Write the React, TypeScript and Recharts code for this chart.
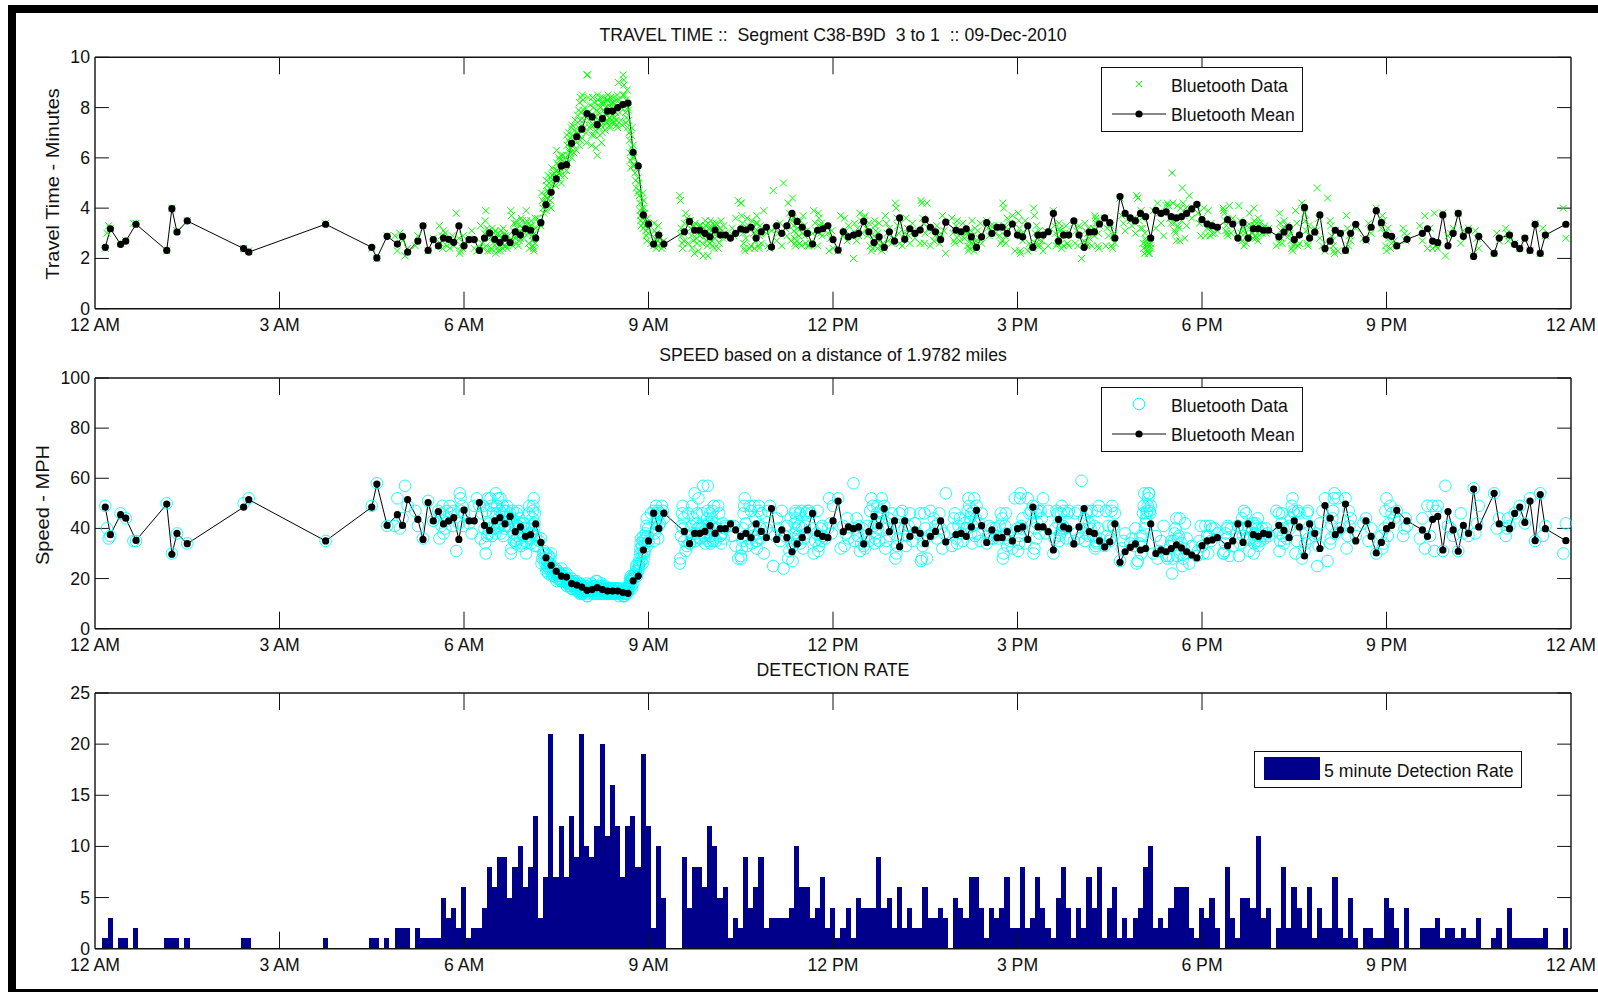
import React from "react";
import { Bar, ComposedChart, Line, ReferenceLine, Scatter, XAxis, YAxis } from "recharts";

// time axis is in 5 minute slots, 288 slots = 24 hours
const hourTicks = [0, 36, 72, 108, 144, 180, 216, 252, 288];
const hourLabels = ["12 AM", "3 AM", "6 AM", "9 AM", "12 PM", "3 PM", "6 PM", "9 PM", "12 AM"];
const travelTicks = [0, 2, 4, 6, 8, 10];
const speedTicks = [0, 20, 40, 60, 80, 100];
const rateTicks = [0, 5, 10, 15, 20, 25];

// slots that have at least one detection
const activeSlots = [
  2, 3, 5, 6, 8, 14, 15, 16, 18, 29, 30, 45, 54, 55, 57, 59, 60, 61, 63, 64, 65, 66, 67,
  68, 69, 70, 71, 72, 73, 74, 75, 76, 77, 78, 79, 80, 81, 82, 83, 84, 85, 86, 87, 88, 89, 90,
  91, 92, 93, 94, 95, 96, 97, 98, 99, 100, 101, 102, 103, 104, 105, 106, 107, 108, 109, 110, 111,
  115, 116, 117, 118, 119, 120, 121, 122, 123, 124, 125, 126, 127, 128, 129, 130, 131, 132, 133, 134, 135,
  136, 137, 138, 139, 140, 141, 142, 143, 144, 145, 146, 147, 148, 149, 150, 151, 152, 153, 154, 155, 156,
  157, 158, 159, 160, 161, 162, 163, 164, 165, 166,
  168, 169, 170, 171, 172, 173, 174, 175, 176, 177, 178, 179, 180, 181, 182, 183, 184, 185, 186, 187, 188,
  189, 190, 191, 192, 193, 194, 195, 196, 197, 198, 199, 200, 201, 202, 203, 204, 205, 206, 207, 208, 209,
  210, 211, 212, 213, 214, 215, 216, 217, 218, 219,
  221, 222, 223, 224, 225, 226, 227, 228, 229,
  231, 232, 233, 234, 235, 236, 237, 238, 239, 240, 241, 242, 243, 244, 245, 246,
  248, 249, 250, 251, 252, 253, 254, 256, 259, 260, 261, 262, 263, 264, 265, 266, 267, 268, 269, 270,
  273, 274, 276, 277, 278, 279, 280, 281, 282, 283, 287
];

const detectionRate = [
  1, 3, 1, 1, 2, 1, 1, 1, 1, 1, 1, 1, 1, 1, 1, 2, 2, 2, 2, 1, 1, 1, 1,
  5, 3, 4, 2, 6, 1, 2, 2, 4, 8, 6, 9, 9, 5, 8, 10, 6, 8, 13, 3, 7, 21, 7,
  12, 7, 13, 9, 21, 10, 9, 12, 20, 11, 16, 12, 7, 12, 13, 8, 19, 12, 2, 10, 5,
  9, 4, 8, 8, 6, 12, 10, 5, 6, 1, 3, 2, 9, 4, 6, 9, 2, 3, 3, 3, 3,
  4, 10, 6, 6, 3, 4, 7, 2, 4, 1, 2, 4, 1, 5, 4, 4, 4, 9, 4, 5, 2,
  6, 2, 4, 2, 2, 6, 3, 3, 4, 3,
  5, 4, 3, 7, 7, 4, 1, 4, 3, 4, 7, 2, 2, 8, 2, 3, 7, 4, 2, 1, 5,
  8, 4, 1, 4, 2, 7, 4, 8, 1, 4, 6, 1, 3, 1, 3, 4, 8, 10, 2, 3, 2,
  4, 6, 6, 6, 2, 1, 4, 3, 5, 2,
  8, 3, 1, 5, 5, 4, 11, 3, 4,
  2, 8, 2, 6, 4, 2, 6, 1, 4, 2, 2, 7, 2, 1, 5, 1,
  2, 2, 1, 1, 5, 4, 2, 4, 2, 2, 2, 3, 1, 2, 2, 1, 2, 1, 1, 3,
  1, 2, 4, 1, 1, 1, 1, 1, 1, 2, 2
];

const travelMean = [
  2.44, 3.18, 2.56, 2.69, 3.36, 2.32, 3.98, 3.05, 3.49, 2.39, 2.25, 3.36, 2.44, 2.02, 2.88, 2.57, 2.88, 2.25, 2.69, 3.3, 2.32, 2.75, 2.5,
  2.81, 2.76, 2.64, 3.3, 2.5, 2.75, 2.75, 2.32, 2.81, 3.01, 2.76, 2.63, 2.81, 2.63, 3.06, 2.93, 3.18, 3.12, 2.81, 3.42, 4.14, 4.63, 5.17,
  5.68, 5.73, 6.58, 6.84, 7.14, 7.76, 7.63, 7.32, 7.56, 7.86, 7.86, 8.0, 8.12, 8.18, 6.22, 5.68, 3.73, 3.37, 2.57, 2.93, 2.57,
  3.06, 3.47, 3.12, 3.12, 3.0, 2.86, 3.13, 2.93, 2.93, 2.81, 3.0, 3.17, 3.13, 3.24, 2.81, 3.06, 3.24, 2.45, 3.3, 3.0, 3.3,
  3.79, 3.47, 3.24, 3.0, 2.57, 3.12, 3.18, 3.3, 2.75, 2.33, 3.06, 2.86, 2.93, 3.0, 3.47, 3.06, 2.63, 2.86, 2.44, 3.06, 2.69,
  3.61, 2.76, 3.18, 3.0, 3.13, 3.54, 3.24, 3.06, 2.75, 3.44,
  3.12, 3.06, 3.18, 2.86, 2.44, 2.86, 3.42, 3.0, 3.24, 3.24, 3.0, 3.37, 2.93, 2.86, 3.3, 2.44, 2.93, 2.93, 3.06, 3.79, 2.69,
  2.93, 2.93, 3.49, 2.93, 2.44, 3.05, 3.06, 3.37, 3.61, 3.42, 2.81, 4.46, 3.79, 3.61, 3.49, 3.79, 3.66, 2.81, 3.91, 3.79, 3.85,
  3.66, 3.61, 3.66, 3.79, 3.97, 4.15, 3.54, 3.37, 3.3, 3.24,
  3.54, 3.37, 2.81, 3.42, 2.81, 3.18, 3.18, 3.12, 3.12,
  2.86, 3.05, 3.24, 2.75, 2.93, 4.03, 2.81, 3.05, 3.73, 2.39, 2.69, 3.12, 3.0, 2.32, 3.0, 3.36,
  2.75, 3.24, 3.9, 3.42, 2.93, 2.88, 2.5, 2.76, 3.0, 3.18, 2.69, 2.63, 3.73, 2.5, 3.0, 3.79, 2.88, 3.12, 2.08, 2.88,
  2.2, 2.81, 2.93, 2.56, 2.39, 2.81, 2.32, 3.36, 2.2, 2.93, 3.36
];

const speedMean = [
  48.5, 37.5, 45.5, 44.1, 35.2, 49.7, 29.7, 38, 33.9, 48.5, 51.5, 35, 48.5, 57.7, 41.2, 45.5, 41.2, 51.5, 43.6, 35.6, 50.3, 43, 46.7,
  41.8, 43, 44.3, 35.6, 47.3, 43, 43, 50.3, 41.2, 39.2, 43, 44.3, 41.8, 44.8, 38.7, 40.6, 36.8, 37.5, 41.8, 34.4, 28.3, 25.3, 22.9,
  21, 20.6, 18, 17.4, 16.6, 15.3, 15.6, 16.4, 15.6, 15, 15, 15, 14.4, 14.1, 19.1, 21, 31.4, 35, 46.1, 40, 46.1,
  38.8, 33.9, 38, 38, 38.8, 41.1, 38, 39.9, 39.9, 41.8, 39.4, 36.8, 38, 36.3, 41.8, 38.8, 36.3, 47.9, 35.6, 39.4, 36.3,
  30.7, 33.8, 36.3, 39.4, 46, 38, 36.8, 36.3, 43, 50.9, 38.7, 40.6, 39.9, 40.6, 33.8, 38.7, 44.8, 41.1, 47.9, 38.7, 43,
  32.7, 43, 36.8, 39.4, 38, 33.9, 36.8, 38.8, 43, 34.6,
  37.5, 38, 36.8, 40.6, 47.2, 41.1, 34.4, 39.4, 36.3, 36.3, 38.7, 35, 39.9, 40.6, 35.6, 48.5, 40.6, 40.6, 38.7, 31.4, 43.6,
  40.6, 39.9, 33.8, 40.6, 47.9, 38.7, 38, 35, 32.6, 34.6, 41.8, 26.5, 30.7, 32.4, 33.8, 31.4, 32, 41.8, 30, 31.4, 30.7,
  32, 33.4, 32.2, 30.7, 29.4, 28.3, 33.1, 35, 35.4, 36.3,
  33.1, 35, 41.8, 34.4, 41.8, 37.5, 36.8, 38, 37.5,
  41.2, 39.2, 36.3, 43, 40.6, 29, 41.8, 38, 32, 49.1, 44.1, 37.5, 39.4, 49.7, 39.4, 35,
  43, 36.8, 30.2, 34.4, 39.9, 41.2, 47.2, 43, 39.4, 36.8, 43.6, 44.8, 31.4, 46.7, 39.4, 30.9, 41.2, 38, 55.7, 40.6,
  54, 41.8, 39.9, 46, 48.5, 42.4, 50.9, 35.1, 53.5, 39.9, 35.1
];

// each row: slot, then the single detections seen in that slot
const travelDetections = [
  [2, 2.4], [3, 3.0, 3.3, 3.2], [5, 2.6], [6, 2.7], [8, 3.4, 3.4], [14, 2.3], [15, 4.0], [16, 3.1], [18, 3.5],
  [29, 2.4], [30, 2.3], [45, 3.4], [54, 2.4], [55, 2.0], [57, 2.9], [59, 2.9, 2.3], [60, 3.0, 2.7], [61, 2.1, 2.4],
  [63, 2.5, 2.9], [64, 3.3], [65, 2.3], [66, 2.8], [67, 2.5],
  [68, 3.3, 2.6, 2.9, 2.4, 3.1], [69, 3.0, 2.5, 2.7], [70, 2.4, 2.6, 2.9, 2.5], [71, 3.8, 2.8],
  [72, 2.2, 2.3, 2.5, 2.4, 2.9, 2.6], [73, 2.8], [74, 3.1, 2.4], [75, 2.3, 2.4], [76, 3.3, 2.6, 2.4, 3.0],
  [77, 3.5, 3.9, 2.5, 3.2, 2.3, 3.1, 3.0, 2.8], [78, 2.3, 2.4, 3.2, 2.6, 3.0, 2.8],
  [79, 3.1, 2.2, 2.6, 2.4, 3.0, 2.3, 2.7, 2.9, 2.5], [80, 2.3, 3.1, 2.8, 2.6, 2.4, 3.2, 2.5, 3.0, 2.9],
  [81, 2.5, 2.4, 2.9, 2.7, 2.6], [82, 3.9, 3.7, 2.7, 2.5, 3.1, 3.4, 2.9, 2.8],
  [83, 3.4, 3.5, 2.6, 3.2, 2.9, 2.5, 3.0, 2.7, 3.3, 2.8], [84, 3.6, 3.5, 3.2, 2.8, 3.0, 3.4],
  [85, 3.9, 3.5, 3.2, 3.0, 2.6, 2.4, 3.3, 3.1], [86, 3.5, 3.3, 3.1, 2.9, 2.7, 2.5, 2.4, 2.3, 3.0, 2.8, 2.6, 3.6, 3.2],
  [87, 3.6, 3.4, 3.3], [88, 4.6, 4.3, 4.0, 3.8, 4.2, 4.5, 3.9],
  [89, 5.1, 4.9, 4.4, 4.7, 4.2, 5.3, 4.6, 4.1, 5.0, 4.8, 4.5, 4.3, 5.2, 4.0], [90, 5.6, 5.3, 5.0, 5.4, 5.2, 4.9, 5.5],
  [91, 6.3, 5.8, 5.5, 5.2, 5.7, 6.0, 5.4, 5.9, 5.6, 5.3, 6.1, 5.0], [92, 5.9, 6.1, 5.6, 5.3, 5.8, 6.0, 5.5],
  [93, 6.9, 6.5, 6.1, 5.8, 6.7, 7.0, 6.3, 6.6, 6.2, 6.8, 6.4, 7.2, 6.0], [94, 7.3, 6.9, 6.5, 6.2, 7.1, 7.5, 6.7, 6.3, 7.0],
  [95, 7.0, 7.7, 7.4, 6.9, 7.9, 7.2, 6.5, 8.2, 7.5, 6.7, 8.4, 7.8, 7.1, 6.8], [96, 8.5, 8.3, 7.9, 7.5, 7.2, 8.0, 7.7, 7.0, 6.6, 9.3],
  [97, 9.3, 8.4, 7.8, 7.5, 7.2, 8.1, 7.3, 6.5, 6.9], [98, 8.4, 8.0, 7.7, 7.3, 6.9, 8.2, 7.6, 7.1, 6.4, 7.9, 7.4, 6.1],
  [99, 8.5, 8.3, 8.1, 7.8, 7.5, 7.2, 6.9, 8.4, 8.0, 7.6, 7.3, 6.6, 8.2, 7.0], [100, 8.4, 8.2, 7.9, 7.6, 7.3, 7.1, 8.0, 7.7, 7.4, 8.3, 7.5],
  [101, 8.5, 8.3, 8.1, 7.9, 7.6, 7.3, 7.2, 8.4, 8.0, 7.8, 7.5, 7.4, 8.2, 7.7], [102, 8.4, 8.2, 7.9, 7.6, 7.4, 8.0, 7.8, 7.5, 8.3, 7.3, 8.5, 7.2],
  [103, 9.0, 8.3, 7.8, 7.5, 8.0, 7.3, 8.5], [104, 9.3, 9.1, 8.9, 8.5, 8.1, 7.8, 7.4, 8.3, 7.6, 8.7, 7.2, 8.0],
  [105, 7.9, 7.5, 7.0, 6.7, 6.2, 5.9, 5.6, 6.9, 6.4, 7.2, 6.0, 5.7, 6.5], [106, 6.0, 5.7, 5.4, 5.1, 4.8, 5.6, 4.6, 5.2],
  [107, 5.0, 4.7, 4.5, 4.2, 3.9, 3.7, 3.5, 3.3, 4.4, 4.0, 3.6, 4.6, 3.4, 3.2], [108, 4.3, 4.0, 3.8, 3.5, 3.3, 3.1, 2.9, 2.7, 3.6, 3.2, 3.0, 3.4],
  [109, 2.6, 2.5], [110, 3.4, 3.1, 2.8, 2.6, 2.4, 3.0, 2.7, 2.5, 3.3, 2.9], [111, 2.8, 2.6, 2.4, 2.5, 2.7],
  [115, 4.5, 4.3, 3.2, 2.9, 2.6, 2.4, 3.0, 2.7, 3.4], [116, 3.8, 3.6, 2.6, 3.5], [117, 3.5, 3.2, 2.9, 2.4, 3.1, 2.7, 3.3, 2.2],
  [118, 3.4, 3.1, 2.8, 2.6, 3.0, 2.3, 3.3, 2.9], [119, 3.3, 3.0, 2.6, 2.1, 3.2, 2.9], [120, 3.5, 3.3, 3.1, 2.9, 2.7, 2.5, 2.1, 3.4, 3.0, 2.8, 3.2, 2.6],
  [121, 3.5, 3.2, 2.9, 2.7, 2.5, 3.4, 3.0, 2.4, 3.3, 2.8], [122, 3.4, 3.0, 2.4, 2.6, 3.2], [123, 3.5, 3.1, 2.8, 3.3, 3.0, 2.9], [124, 2.9],
  [125, 3.2, 2.9, 3.6], [126, 4.3, 4.2], [127, 4.2, 3.7, 3.4, 3.0, 2.6, 2.4, 2.3, 3.2, 2.8], [128, 3.6, 3.3, 2.4, 2.5],
  [129, 3.5, 3.2, 3.0, 2.4, 2.7, 3.4], [130, 3.7, 3.4, 3.1, 2.5, 2.4, 2.9, 3.3, 3.0, 2.6], [131, 3.9, 3.0], [132, 2.5, 2.4, 3.1],
  [133, 4.7, 3.2, 2.7], [134, 3.0, 3.4, 2.5], [135, 5.0, 3.2, 2.9], [136, 4.2, 3.8, 2.7, 3.5], [137, 4.4, 3.6, 3.3, 3.1, 2.8, 2.6, 2.5, 3.0, 2.7, 3.4],
  [138, 3.2, 2.9, 2.6, 3.5, 2.5, 3.0], [139, 3.7, 3.3, 2.9, 2.6, 3.1, 2.5], [140, 2.5, 2.6, 3.0], [141, 3.9, 3.4, 3.1, 2.5],
  [142, 3.8, 3.6, 3.3, 3.0, 3.4, 2.9, 3.2], [143, 3.3, 3.0], [144, 2.3, 2.8, 3.1, 2.4], [145, 2.3], [146, 3.7, 2.9], [147, 3.6, 3.1, 2.7, 3.3],
  [148, 2.0], [149, 3.4, 3.0, 2.7, 3.2, 2.9], [150, 3.8, 3.5, 3.0, 3.6], [151, 3.7, 3.2, 2.9, 3.4], [152, 2.5, 2.3, 2.4, 2.9],
  [153, 3.5, 3.3, 3.1, 2.8, 2.6, 2.4, 3.0, 2.7, 3.4], [154, 2.5, 2.3, 2.6, 2.4], [155, 3.7, 3.4, 3.0, 2.7, 3.2], [156, 2.6, 2.8],
  [157, 4.2, 4.0, 3.6, 3.3, 3.0, 2.6], [158, 2.5, 3.0], [159, 3.6, 3.2, 2.9, 2.6], [160, 3.4, 2.8], [161, 3.1, 2.6],
  [162, 4.3, 4.2, 3.6, 3.4, 2.6, 3.0], [163, 4.2, 3.2, 2.5], [164, 3.1, 2.7, 2.9], [165, 3.3, 2.8, 2.6, 3.0], [166, 3.7, 3.1, 2.2],
  [168, 3.6, 3.0, 2.7, 2.6, 3.3], [169, 3.5, 2.9, 2.7, 3.1], [170, 3.4, 2.8, 3.0], [171, 3.0, 2.5, 2.3, 2.4, 2.7, 3.1, 2.6],
  [172, 3.5, 2.9, 2.5, 2.3, 3.2, 2.7, 2.4], [173, 3.1, 2.8, 3.4, 2.6], [174, 3.5], [175, 3.2, 2.9, 3.3, 3.0], [176, 3.3, 3.0, 3.2],
  [177, 3.3, 2.9, 2.6, 2.7], [178, 4.2, 4.0, 3.3, 2.9, 2.6, 3.1, 3.6], [179, 3.4, 3.7], [180, 2.3, 3.0], [181, 3.8, 3.5, 3.2, 2.3, 2.2, 2.9, 3.0, 2.7],
  [182, 3.5, 2.3], [183, 2.6, 2.5, 2.4], [184, 4.0, 3.7, 3.0, 2.6, 3.3, 2.8, 2.5], [185, 3.1, 2.5, 2.7, 2.3], [186, 3.1, 2.5], [187, 3.9],
  [188, 3.3, 3.0, 2.5, 2.6, 2.8], [189, 3.4, 3.2, 3.1, 2.6, 2.4, 3.0, 2.9, 2.5], [190, 3.0, 3.3, 2.6, 2.5], [191, 3.4], [192, 2.6, 3.1, 2.5, 3.3],
  [193, 2.0, 2.7], [194, 3.4, 3.1, 2.6, 2.5, 3.0, 3.2, 2.8], [195, 3.0, 2.5, 3.2, 2.9], [196, 3.7, 3.6, 3.4, 3.5, 2.5, 3.0, 2.4, 3.3], [197, 3.6],
  [198, 2.5, 3.2, 2.9, 3.4], [199, 3.3, 2.5, 2.4, 2.9, 3.0, 2.6], [200, 4.4], [201, 3.7, 3.4, 3.1], [202, 3.5], [203, 3.3, 3.6, 3.0],
  [204, 4.5, 4.4, 3.5, 3.2], [205, 3.9, 3.6, 3.2, 2.6, 2.4, 2.2, 3.0, 2.8], [206, 2.7, 2.6, 2.5, 2.4, 2.3, 2.2, 2.2, 2.5, 2.6, 2.4], [207, 3.9, 3.2],
  [208, 4.2, 3.8, 3.4], [209, 2.9, 4.1], [210, 4.2, 4.1, 3.6, 3.4], [211, 5.4, 4.2, 3.4, 3.1, 3.0, 2.7], [212, 4.1, 3.3, 3.2, 2.7, 4.0, 3.5],
  [213, 4.8, 4.2, 3.7, 2.8, 4.0, 3.3], [214, 4.5, 3.6], [215, 4.1], [216, 3.8, 3.4, 2.9, 3.6], [217, 4.0, 2.9, 3.2], [218, 3.9, 3.2, 2.9, 3.4, 3.0], [219, 3.0, 3.1],
  [221, 4.0, 3.9, 3.8, 3.5, 3.1, 3.3, 3.0, 2.9], [222, 4.1, 3.0, 3.6], [223, 2.9], [224, 4.1, 3.5, 3.0, 2.7, 3.2], [225, 2.5, 3.0, 2.6, 3.3, 2.9],
  [226, 3.8, 3.3, 3.0, 2.8], [227, 4.0, 3.5, 3.3, 3.1, 2.9, 2.8, 3.4, 3.2, 3.0, 2.7, 3.6], [228, 3.4, 3.0, 3.2], [229, 3.3, 3.0, 3.1, 3.2],
  [231, 2.5, 2.6], [232, 3.8, 3.4, 3.1, 2.8, 2.6, 3.2, 3.0, 3.5], [233, 3.3, 2.9], [234, 3.0, 2.7, 2.4, 2.3, 2.5, 2.6], [235, 3.9, 3.4, 2.5, 2.6],
  [236, 4.2, 3.8], [237, 3.5, 3.1, 2.6, 2.5, 3.3, 2.9], [238, 3.2], [239, 3.1, 4.8, 3.6, 2.8], [240, 2.5, 2.3], [241, 4.4, 3.5],
  [242, 3.3, 2.9, 2.7, 2.5, 2.3, 2.2, 3.1], [243, 2.3, 3.0], [244, 2.3], [245, 3.7, 3.2, 2.5, 2.9, 2.7], [246, 3.2], [248, 2.8, 2.7], [249, 3.4, 3.0],
  [250, 4.0], [251, 3.2], [252, 3.7, 3.5, 3.0, 2.5, 2.3], [253, 3.2, 2.8, 2.4, 2.6], [254, 2.7, 2.5], [256, 3.2, 3.0, 2.7, 2.9], [259, 3.3, 2.7],
  [260, 3.7, 2.4], [261, 3.2, 2.4], [262, 3.8, 2.5, 2.4], [263, 3.8], [264, 2.1, 2.9], [265, 3.0, 3.2], [266, 3.8], [267, 2.6, 3.1], [268, 3.2],
  [269, 2.1], [270, 3.1, 2.8, 2.4], [273, 2.2], [274, 3.0, 2.7], [276, 3.2, 3.0, 2.7, 2.9], [277, 2.6], [278, 2.4], [279, 2.8], [280, 2.3], [281, 3.4],
  [282, 2.2], [283, 3.2, 2.9], [287, 4.0, 2.8]
];

const speedDetections = [
  [2, 49], [3, 40, 36, 37], [5, 46], [6, 44], [8, 35, 35], [14, 50], [15, 30], [16, 38], [18, 34], [29, 50], [30, 52], [45, 35], [54, 49], [55, 58], [57, 41],
  [59, 41, 52], [60, 40, 44], [61, 57, 49], [63, 47, 41], [64, 36], [65, 51], [66, 43], [67, 47], [68, 36, 46, 41, 49, 38], [69, 40, 47, 44],
  [70, 49, 46, 41, 47], [71, 31, 42], [72, 54, 52, 47, 49, 41, 46], [73, 42], [74, 38, 49], [75, 52, 49], [76, 36, 46, 49, 40],
  [77, 34, 30, 47, 37, 52, 38, 40, 42], [78, 52, 49, 37, 46, 40, 42], [79, 38, 54, 46, 49, 40, 52, 44, 41, 47], [80, 52, 38, 42, 46, 49, 37, 47, 40, 41],
  [81, 47, 49, 41, 44, 46], [82, 30, 32, 44, 47, 38, 35, 41, 42], [83, 35, 34, 46, 37, 41, 47, 40, 44, 36, 42], [84, 33, 34, 37, 42, 40, 35],
  [85, 30, 34, 37, 40, 46, 49, 36, 38], [86, 34, 36, 38, 41, 44, 47, 49, 52, 40, 42, 46, 33, 37], [87, 33, 35, 36], [88, 26, 28, 30, 31, 28, 26, 30],
  [89, 23, 24, 27, 25, 28, 22, 26, 29, 24, 25, 26, 28, 23, 30], [90, 21, 22, 24, 21, 23, 24, 22], [91, 19, 20, 22, 23, 21, 20, 22, 20, 21, 22, 19, 24],
  [92, 20, 19, 21, 22, 20, 20, 22], [93, 17, 18, 19, 20, 18, 17, 19, 18, 19, 17, 19, 16, 20], [94, 16, 17, 18, 19, 17, 16, 18, 19, 17],
  [95, 17, 15, 16, 17, 15, 16, 18, 14, 16, 18, 14, 15, 17, 17], [96, 14, 14, 15, 16, 16, 15, 15, 17, 18, 13], [97, 13, 14, 15, 16, 16, 15, 16, 18, 17],
  [98, 14, 15, 15, 16, 17, 14, 16, 17, 19, 15, 16, 19], [99, 14, 14, 15, 15, 16, 16, 17, 14, 15, 16, 16, 18, 14, 17], [100, 14, 14, 15, 16, 16, 17, 15, 15, 16, 14, 16],
  [101, 14, 14, 15, 15, 16, 16, 16, 14, 15, 15, 16, 16, 14, 15], [102, 14, 14, 15, 16, 16, 15, 15, 16, 14, 16, 14, 16], [103, 13, 14, 15, 16, 15, 16, 14],
  [104, 13, 13, 13, 14, 15, 15, 16, 14, 16, 14, 16, 15], [105, 15, 16, 17, 18, 19, 20, 21, 17, 19, 16, 20, 21, 18], [106, 20, 21, 22, 23, 25, 21, 26, 23],
  [107, 24, 25, 26, 28, 30, 32, 34, 36, 27, 30, 33, 26, 35, 37], [108, 28, 30, 31, 34, 36, 38, 41, 44, 33, 37, 40, 35], [109, 46, 47],
  [110, 35, 38, 42, 46, 49, 40, 44, 47, 36, 41], [111, 42, 46, 49, 47, 44], [115, 26, 28, 37, 41, 46, 49, 40, 44, 35], [116, 31, 33, 46, 34],
  [117, 34, 37, 41, 49, 38, 44, 36, 54], [118, 35, 38, 42, 46, 40, 52, 36, 41], [119, 36, 40, 46, 57, 37, 41], [120, 34, 36, 38, 41, 44, 47, 57, 35, 40, 42, 37, 46],
  [121, 34, 37, 41, 44, 47, 35, 40, 49, 36, 42], [122, 35, 40, 49, 46, 37], [123, 34, 38, 42, 36, 40, 41], [124, 41], [125, 37, 41, 33], [126, 28, 29],
  [127, 28, 32, 35, 40, 46, 49, 52, 37, 42], [128, 33, 36, 49, 47], [129, 34, 37, 40, 49, 44, 35], [130, 32, 35, 38, 47, 49, 41, 36, 40, 46], [131, 30, 40],
  [132, 47, 49, 38], [133, 25, 37, 44], [134, 40, 35, 47], [135, 24, 37, 41], [136, 28, 31, 44, 34], [137, 27, 33, 36, 38, 42, 46, 47, 40, 44, 35],
  [138, 37, 41, 46, 34, 47, 40], [139, 32, 36, 41, 46, 38, 47], [140, 47, 46, 40], [141, 30, 35, 38, 47], [142, 31, 33, 36, 40, 35, 41, 37], [143, 36, 40],
  [144, 52, 42, 38, 49], [145, 52], [146, 32, 41], [147, 33, 38, 44, 36], [148, 58], [149, 35, 40, 44, 37, 41], [150, 31, 34, 40, 33], [151, 32, 37, 41, 35],
  [152, 47, 52, 49, 41], [153, 34, 36, 38, 42, 46, 49, 40, 44, 35], [154, 47, 52, 46, 49], [155, 32, 35, 40, 44, 37], [156, 46, 42], [157, 28, 30, 33, 36, 40, 46],
  [158, 47, 40], [159, 33, 37, 41, 46], [160, 35, 42], [161, 38, 46], [162, 27, 28, 33, 35, 46, 40], [163, 28, 37, 47], [164, 38, 44, 41], [165, 36, 42, 46, 40],
  [166, 32, 38, 54], [168, 33, 40, 44, 46, 36], [169, 34, 41, 44, 38], [170, 35, 42, 40], [171, 40, 47, 52, 49, 44, 38, 46], [172, 34, 41, 47, 52, 37, 44, 49],
  [173, 38, 42, 35, 46], [174, 34], [175, 37, 41, 36, 40], [176, 36, 40, 37], [177, 36, 41, 46, 44], [178, 28, 30, 36, 41, 46, 38, 33], [179, 35, 32], [180, 52, 40],
  [181, 31, 34, 37, 52, 54, 41, 40, 44], [182, 34, 52], [183, 46, 47, 49], [184, 30, 32, 40, 46, 36, 42, 47], [185, 38, 47, 44, 52], [186, 38, 47], [187, 30],
  [188, 36, 40, 47, 46, 42], [189, 35, 37, 38, 46, 49, 40, 41, 47], [190, 40, 36, 46, 47], [191, 35], [192, 46, 38, 47, 36], [193, 59, 44], [194, 35, 38, 46, 47, 40, 37, 42],
  [195, 40, 47, 37, 41], [196, 32, 33, 35, 34, 47, 40, 49, 36], [197, 33], [198, 47, 37, 41, 35], [199, 36, 47, 49, 41, 40, 46], [200, 27], [201, 32, 35, 38], [202, 34],
  [203, 36, 33, 40], [204, 26, 27, 34, 37], [205, 30, 33, 37, 46, 49, 54, 40, 42], [206, 44, 46, 47, 49, 52, 54, 54, 47, 46, 49], [207, 30, 37], [208, 28, 31, 35],
  [209, 41, 29], [210, 28, 29, 33, 35], [211, 22, 28, 35, 38, 40, 44], [212, 29, 36, 37, 44, 30, 34], [213, 25, 28, 32, 42, 30, 36], [214, 26, 33], [215, 29],
  [216, 31, 35, 41, 33], [217, 30, 41, 37], [218, 30, 37, 41, 35, 40], [219, 40, 38], [221, 30, 30, 31, 34, 38, 36, 40, 41], [222, 29, 40, 33], [223, 41],
  [224, 29, 34, 40, 44, 37], [225, 47, 40, 46, 36, 41], [226, 31, 36, 40, 42], [227, 30, 34, 36, 38, 41, 42, 35, 37, 40, 44, 33], [228, 35, 40, 37], [229, 36, 40, 38, 37],
  [231, 47, 46], [232, 31, 35, 38, 42, 46, 37, 40, 34], [233, 36, 41], [234, 40, 44, 49, 52, 47, 46], [235, 30, 35, 47, 46], [236, 28, 31], [237, 34, 38, 46, 47, 36, 41],
  [238, 37], [239, 38, 25, 33, 42], [240, 47, 52], [241, 27, 34], [242, 36, 41, 44, 47, 52, 54, 38], [243, 52, 40], [244, 52], [245, 32, 37, 47, 41, 44], [246, 37],
  [248, 42, 44], [249, 35, 40], [250, 30], [251, 37], [252, 32, 34, 40, 47, 52], [253, 37, 42, 49, 46], [254, 44, 47], [256, 37, 40, 44, 41], [259, 36, 44], [260, 32, 49],
  [261, 37, 49], [262, 31, 47, 49], [263, 31], [264, 57, 41], [265, 40, 37], [266, 31], [267, 46, 38], [268, 37], [269, 56], [270, 38, 42, 49], [273, 54], [274, 40, 44],
  [276, 37, 40, 44, 41], [277, 46], [278, 49], [279, 42], [280, 52], [281, 35], [282, 54], [283, 37, 41], [287, 30, 42]
];

const FONT = "'Liberation Sans', Arial, sans-serif";
const INK = "#111";
const CHART_W = 1598;
const X_SQUEEZE = 0.93; // the reference text is narrower than it is tall
const X_TICK_PX = 17;
const Y_TICK_SLOTS = 2.7; // 14px along the time axis

// detections fall inside the 5 minutes that end at their slot
function toPoints(rows: number[][]) {
  const points: { x: number; y: number }[] = [];
  rows.forEach(([slot, ...values]) => {
    values.forEach((y, i) => {
      points.push({ x: slot - 1 + (i + 1) / values.length, y });
    });
  });
  return points;
}

function toSeries(values: number[]) {
  return activeSlots.map((slot, i) => ({ x: slot, y: values[i] }));
}

const CrossMark = (props: any) => {
  const { cx, cy } = props;
  if (cx == null || cy == null) return null;
  return (
    <path
      d={`M${cx - 3.5} ${cy - 3.5}L${cx + 3.5} ${cy + 3.5}M${cx - 3.5} ${cy + 3.5}L${cx + 3.5} ${cy - 3.5}`}
      stroke="#00FF00"
      strokeWidth={1}
      fill="none"
    />
  );
};

const RingMark = (props: any) => {
  const { cx, cy } = props;
  if (cx == null || cy == null) return null;
  return <circle cx={cx} cy={cy} r={5.8} stroke="#00FFFF" strokeWidth={0.9} fill="none" />;
};

const RateBar = (props: any) => {
  const { x, y, width, height } = props;
  return <rect x={x - 0.2} y={y} width={width + 0.4} height={height} fill="#00008B" shapeRendering="crispEdges" />;
};

const BottomLabel = (props: any) => {
  const { x, y, payload } = props;
  return (
    <text
      transform={`translate(${x} ${y + 22}) scale(${X_SQUEEZE} 1)`}
      textAnchor="middle"
      fontFamily={FONT}
      fontSize={19}
      fill={INK}
    >
      {hourLabels[hourTicks.indexOf(payload.value)]}
    </text>
  );
};

const LeftLabel = (props: any) => {
  const { x, y, payload } = props;
  return (
    <text
      transform={`translate(${x - 5} ${y + 6}) scale(${X_SQUEEZE} 1)`}
      textAnchor="end"
      fontFamily={FONT}
      fontSize={19}
      fill={INK}
    >
      {payload.value}
    </text>
  );
};

const axisStroke = { stroke: "#111", strokeWidth: 1.4 };

function frameAxes(yTicks: number[]) {
  const yDomain: [number, number] = [0, yTicks[yTicks.length - 1]];
  return [
    <XAxis
      key="bottom"
      dataKey="x"
      type="number"
      domain={[0, 288]}
      ticks={hourTicks}
      interval={0}
      height={30}
      tickSize={0}
      tickMargin={0}
      tick={BottomLabel}
      axisLine={axisStroke}
      tickLine={false}
    />,
    <XAxis key="top" xAxisId="top" orientation="top" type="number" domain={[0, 288]} height={1} tick={false} axisLine={axisStroke} tickLine={false} />,
    <YAxis
      key="left"
      dataKey="y"
      type="number"
      domain={yDomain}
      ticks={yTicks}
      interval={0}
      width={40}
      tickSize={0}
      tickMargin={0}
      tick={LeftLabel}
      axisLine={axisStroke}
      tickLine={false}
    />,
    <YAxis key="right" yAxisId="right" orientation="right" type="number" domain={yDomain} width={1} tick={false} axisLine={axisStroke} tickLine={false} />
  ];
}

// the ticks point into the plot on all four sides
function frameTicks(yTicks: number[], plotHeight: number) {
  const yMax = yTicks[yTicks.length - 1];
  const xTickLen = (X_TICK_PX / plotHeight) * yMax;
  const tick = { stroke: "#111", strokeWidth: 1, ifOverflow: "visible" as const };
  const marks: React.ReactElement[] = [];
  hourTicks.slice(1, -1).forEach((x) => {
    marks.push(<ReferenceLine key={`b${x}`} {...tick} segment={[{ x, y: 0 }, { x, y: xTickLen }]} />);
    marks.push(<ReferenceLine key={`t${x}`} {...tick} segment={[{ x, y: yMax }, { x, y: yMax - xTickLen }]} />);
  });
  yTicks.forEach((y) => {
    marks.push(<ReferenceLine key={`l${y}`} {...tick} segment={[{ x: 0, y }, { x: Y_TICK_SLOTS, y }]} />);
    marks.push(<ReferenceLine key={`r${y}`} {...tick} segment={[{ x: 288, y }, { x: 288 - Y_TICK_SLOTS, y }]} />);
  });
  return marks;
}

function panelMargin(height: number, plotTop: number, plotBottom: number) {
  return { top: plotTop - 1, bottom: height - plotBottom - 30, left: 55, right: 26 };
}

const textBase: React.CSSProperties = {
  position: "absolute",
  fontFamily: FONT,
  fontSize: 19,
  color: INK,
  whiteSpace: "pre",
  lineHeight: 1
};

function Title({ y, children }: { y: number; children: string }) {
  return (
    <div style={{ ...textBase, left: 832.5, top: y, transform: `translate(-50%, -50%) scaleX(${X_SQUEEZE})` }}>
      {children}
    </div>
  );
}

function YLabel({ x, y, children }: { x: number; y: number; children: string }) {
  return (
    <div
      style={{
        ...textBase,
        fontSize: 20,
        left: x,
        top: y,
        transform: `translate(-50%, -50%) rotate(-90deg) scaleY(${X_SQUEEZE})`
      }}
    >
      {children}
    </div>
  );
}

function LegendText({ x, y, children }: { x: number; y: number; children: string }) {
  return (
    <div style={{ ...textBase, left: x, top: y, transform: `translateY(-50%) scaleX(${X_SQUEEZE})`, transformOrigin: "left center" }}>
      {children}
    </div>
  );
}

const boxStyle: React.CSSProperties = {
  position: "absolute",
  border: "1.4px solid #111",
  background: "#fff",
  boxSizing: "border-box"
};

function MeanLegend({ top, mark }: { top: number; mark: React.ReactNode }) {
  // the two top panels share the same legend layout
  return (
    <>
      <div style={{ ...boxStyle, left: 1101, top, width: 202, height: 65 }} />
      <svg style={{ position: "absolute", left: 1101, top, overflow: "visible" }} width={202} height={65}>
        {mark}
        <line x1={11} x2={65} y1={47} y2={47} stroke="#111" strokeWidth={1} />
        <circle cx={38} cy={47} r={3.6} fill="#000" />
      </svg>
      <LegendText x={1170.5} y={top + 18}>Bluetooth Data</LegendText>
      <LegendText x={1170.5} y={top + 47}>Bluetooth Mean</LegendText>
    </>
  );
}

export default function App() {
  const travelPoints = toPoints(travelDetections);
  const speedPoints = toPoints(speedDetections);
  const travelLine = toSeries(travelMean);
  const speedLine = toSeries(speedMean);
  const rateBars = toSeries(detectionRate);

  return (
    <div style={{ position: "absolute", left: 0, top: 0, width: 1598, height: 992, background: "#fff", overflow: "hidden" }}>
      <div style={{ position: "absolute", left: 8, top: 5, width: 8, height: 987, background: "#000" }} />
      <div style={{ position: "absolute", left: 8, top: 5, width: 1590, height: 8, background: "#000" }} />
      <div style={{ position: "absolute", left: 8, top: 989, width: 1590, height: 3, background: "#000" }} />

      <div style={{ position: "absolute", left: 0, top: 40 }}>
        <ComposedChart width={CHART_W} height={300} margin={panelMargin(300, 17.3, 268.7)}>
          {frameAxes(travelTicks)}
          <Scatter data={travelPoints} dataKey="y" shape={CrossMark} isAnimationActive={false} />
          <Line
            data={travelLine}
            dataKey="y"
            stroke="#000"
            strokeWidth={1}
            dot={{ r: 3.6, fill: "#000", stroke: "#000", strokeWidth: 0 }}
            isAnimationActive={false}
          />
          {frameTicks(travelTicks, 251.4)}
        </ComposedChart>
      </div>

      <div style={{ position: "absolute", left: 0, top: 360 }}>
        <ComposedChart width={CHART_W} height={300} margin={panelMargin(300, 18, 268.7)}>
          {frameAxes(speedTicks)}
          <Scatter data={speedPoints} dataKey="y" shape={RingMark} isAnimationActive={false} />
          <Line
            data={speedLine}
            dataKey="y"
            stroke="#000"
            strokeWidth={1}
            dot={{ r: 3.6, fill: "#000", stroke: "#000", strokeWidth: 0 }}
            isAnimationActive={false}
          />
          {frameTicks(speedTicks, 250.7)}
        </ComposedChart>
      </div>

      <div style={{ position: "absolute", left: 0, top: 675 }}>
        <ComposedChart width={CHART_W} height={305} data={rateBars} margin={panelMargin(305, 18, 273.7)}>
          {frameAxes(rateTicks)}
          <Bar dataKey="y" barSize={5.125} shape={RateBar} isAnimationActive={false} />
          {frameTicks(rateTicks, 255.7)}
        </ComposedChart>
      </div>

      <Title y={34}>{"TRAVEL TIME ::  Segment C38-B9D  3 to 1  :: 09-Dec-2010"}</Title>
      <Title y={354}>SPEED based on a distance of 1.9782 miles</Title>
      <Title y={669}>DETECTION RATE</Title>

      <YLabel x={52} y={184}>Travel Time - Minutes</YLabel>
      <YLabel x={42} y={505}>Speed - MPH</YLabel>

      <MeanLegend
        top={67}
        mark={<path d="M34.8 13.8L41.2 20.2M34.8 20.2L41.2 13.8" stroke="#00FF00" strokeWidth={1} />}
      />
      <MeanLegend
        top={387}
        mark={<circle cx={38} cy={17} r={5.8} fill="none" stroke="#00FFFF" strokeWidth={1} />}
      />

      <div style={{ ...boxStyle, left: 1254, top: 751, width: 268, height: 37 }} />
      <div style={{ position: "absolute", left: 1264, top: 757, width: 56, height: 23, background: "#00008B" }} />
      <LegendText x={1324} y={770}>5 minute Detection Rate</LegendText>
    </div>
  );
}
